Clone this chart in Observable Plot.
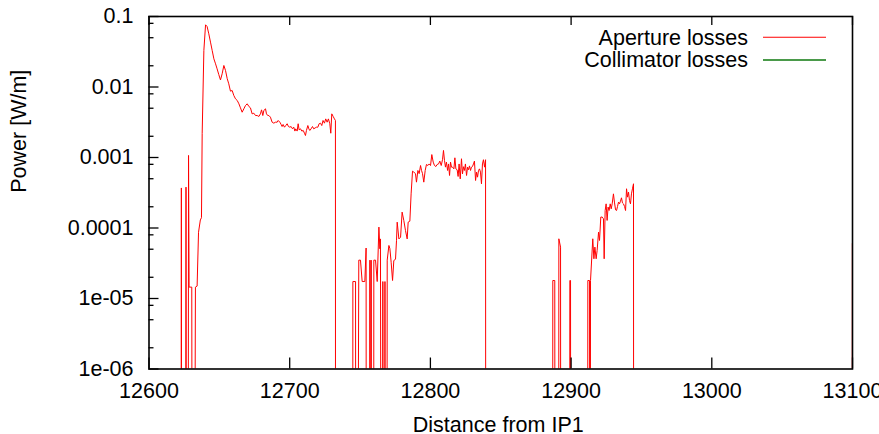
<!DOCTYPE html>
<html><head><meta charset="utf-8">
<script src="https://cdn.jsdelivr.net/npm/d3@7"></script>
<script src="https://cdn.jsdelivr.net/npm/@observablehq/plot@0.6"></script>
<style>
html,body{margin:0;padding:0;background:#fff;overflow:hidden;}
</style></head><body><div id="chart"></div>
<script>
// Aperture losses: distance from IP1 [m] and power [W/m] (0 = no loss, below axis)
const distance = [
12622.6,12623.0,12623.4,12625.9,12626.3,12626.7,12627.7,12628.1,12628.5,12630.4,12630.9,12631.9,12633.0,12634.2,12635.2,12636.5,12637.3,12637.8,12639.0,
12640.2,12641.3,12642.5,12643.7,12644.9,12646.1,12647.3,12648.4,12649.6,12650.8,12652.0,12653.2,12654.4,12655.6,12656.7,12657.9,12659.1,12660.3,12661.5,12662.7,
12663.9,12665.0,12666.2,12667.4,12668.6,12669.8,12671.0,12672.1,12673.3,12674.5,12675.7,12676.9,12678.1,12679.2,12680.0,12680.9,12681.6,12682.8,12683.5,12684.4,
12685.2,12686.3,12687.5,12688.7,12689.9,12691.1,12691.8,12693.0,12693.9,12694.6,12695.3,12696.3,12697.2,12698.2,12699.1,12700.1,12701.0,12702.0,12702.9,12703.7,
12704.3,12705.3,12706.0,12706.7,12707.7,12708.6,12709.6,12710.5,12711.2,12711.9,12712.9,12713.6,12714.3,12715.2,12716.2,12717.1,12718.1,12719.0,12720.0,12720.9,
12721.9,12722.8,12723.7,12724.7,12725.6,12726.6,12727.5,12728.5,12729.2,12729.9,12730.9,12731.8,12732.5,12732.6,
12744.7,12744.9,12746.8,12747.0,12747.9,12749.1,12750.3,12751.5,12753.4,12754.3,12754.5,12756.8,12757.0,12757.3,12757.7,12757.9,12758.1,
12759.6,12759.8,12761.0,12762.2,12763.4,12764.1,12764.5,12765.2,12766.0,12766.2,12766.4,12767.5,12767.7,12768.0,12769.0,12769.3,12770.5,12771.2,
12772.1,12773.1,12774.0,12775.2,12775.9,12776.4,12777.6,12778.8,12779.9,12781.1,12782.3,12783.5,12784.2,12785.4,12786.3,12787.3,12788.2,12789.4,
12790.1,12791.1,12792.0,12793.0,12793.7,12794.4,12795.3,12796.3,12797.2,12798.2,12799.1,12800.1,12801.0,12802.0,12802.9,12803.9,12804.8,12805.8,
12806.7,12807.7,12808.6,12809.3,12810.0,12810.7,12811.4,12812.2,12812.9,12813.6,12814.3,12815.0,12815.7,12816.7,12817.4,12818.1,12819.0,12819.7,
12820.4,12821.2,12822.1,12822.8,12823.5,12824.2,12824.9,12825.7,12826.4,12827.1,12827.8,12828.5,12829.2,12829.9,12830.6,12831.3,12832.1,12832.8,
12833.5,12834.2,12834.9,12835.6,12836.3,12837.0,12837.7,12838.5,12839.2,12839.4,
12886.8,12887.0,12888.4,12888.6,12891.1,12891.3,12892.5,12892.7,12898.9,12899.1,12899.6,12899.8,12911.6,12911.9,12913.1,12913.3,12913.5,12913.8,
12915.4,12916.2,12916.9,12917.8,12918.5,12919.5,12920.2,12921.1,12922.1,12923.0,12923.5,12924.2,12924.9,12925.6,12926.3,12927.0,12927.8,12928.5,
12929.2,12930.1,12930.8,12931.6,12932.3,12933.0,12933.7,12934.4,12935.1,12935.8,12936.5,12937.2,12938.0,12938.7,12939.4,12940.1,12940.8,12941.5,
12942.2,12942.9,12943.6,12944.35,12944.5,
13099.6,13099.9
];
const aperturePower = [
0,3.7e-4,0,0,3.8e-4,0,0,1.07e-3,1.45e-5,1.45e-5,0,0,1.45e-5,1.5e-5,8.7e-5,1.3e-4,1.4e-4,2.2e-3,0.033,
0.0762,0.0721,0.0568,0.0433,0.0330,0.0251,0.0213,0.0181,0.0150,0.0126,0.0154,0.0202,0.0171,0.0131,0.0111,0.00873,0.00892,0.00757,0.00679,0.00644,
0.00577,0.00506,0.00439,0.00490,0.00547,0.00577,0.00529,0.00506,0.00416,0.00425,0.00394,0.00394,0.00382,0.00416,0.00474,0.00394,0.00464,0.00490,0.00416,0.00394,
0.00394,0.00373,0.00317,0.00307,0.00317,0.00317,0.00335,0.00317,0.00294,0.00275,0.00294,0.00269,0.00284,0.00301,0.00275,0.00269,0.00275,0.00255,0.00269,0.00237,
0.00255,0.00237,0.00301,0.00247,0.00255,0.00237,0.00242,0.00221,0.00205,0.00242,0.00284,0.00255,0.00242,0.00255,0.00275,0.00255,0.00263,0.00269,0.00269,0.00301,
0.00307,0.00284,0.00335,0.00307,0.00353,0.00317,0.00353,0.00301,0.00221,0.00416,0.00382,0.00353,0.00335,0,
0,1.74e-5,1.74e-5,0,0,3.5e-5,3.5e-5,1.74e-5,1.74e-5,5.2e-5,0,0,3.5e-5,0,0,3.5e-5,0,
0,3.5e-5,3.5e-5,1.74e-5,1.03e-4,5.07e-5,7.0e-5,0,0,1.74e-5,0,0,1.74e-5,0,0,3.5e-5,5.65e-5,5.1e-5,
3.27e-5,1.8e-5,3.46e-5,3.6e-5,6.6e-5,1.21e-4,7.0e-5,7.4e-5,1.68e-4,1.28e-4,9.2e-5,7.0e-5,1.21e-4,1.25e-4,3.05e-4,6.4e-4,6.2e-4,5.9e-4,
4.47e-4,6.55e-4,5.9e-4,7.7e-4,6.55e-4,5.9e-4,4.47e-4,6.55e-4,7.96e-4,7.7e-4,8.1e-4,7.7e-4,1.10e-3,8.6e-4,7.7e-4,7.45e-4,7.96e-4,8.1e-4,
8.9e-4,7.7e-4,9.3e-4,1.26e-3,9.1e-4,7.3e-4,8.6e-4,6.55e-4,8.1e-4,5.56e-4,8.6e-4,7.3e-4,7.3e-4,6.9e-4,9.9e-4,6.9e-4,6.7e-4,5.38e-4,
8.1e-4,4.98e-4,9.6e-4,5.86e-4,7.4e-4,6.55e-4,8.1e-4,5.56e-4,7.3e-4,6.7e-4,7.6e-4,6.55e-4,7.3e-4,7.45e-4,8.1e-4,8.9e-4,4.72e-4,6.2e-4,
5.26e-4,6.55e-4,6.9e-4,6.2e-4,4.23e-4,8.1e-4,9.3e-4,7.3e-4,9.3e-4,0,
0,1.8e-5,1.8e-5,0,0,7.03e-5,5.36e-5,0,0,1.8e-5,1.8e-5,0,0,1.8e-5,1.8e-5,0,0,1.8e-5,
7.03e-5,3.66e-5,5.36e-5,3.66e-5,4.8e-5,8.73e-5,6.65e-5,1.43e-4,1.43e-4,1.35e-4,3.66e-5,1.77e-4,2.2e-4,1.28e-4,1.98e-4,1.77e-4,2.2e-4,1.87e-4,
2.2e-4,3.05e-4,2.33e-4,1.81e-4,1.77e-4,2.02e-4,2.33e-4,2.2e-4,2.4e-4,2.68e-4,2.27e-4,2.2e-4,2.02e-4,1.77e-4,3.6e-4,2.74e-4,3.23e-4,2.46e-4,
2.2e-4,3.05e-4,3.6e-4,4.24e-4,0,
0,6e-5
];
// Collimator losses: nothing visible in this range
const collimatorDistance = [];
const collimatorPower = [];

const seriesNames = ["Aperture losses", "Collimator losses"];
const seriesColors = ["#ff0000", "#4a9a4a"];
const xTicks = [12600, 12700, 12800, 12900, 13000, 13100];
const yTicks = [0.1, 0.01, 0.001, 0.0001, 1e-5, 1e-6];
const yTickLabels = ["0.1", "0.01", "0.001", "0.0001", "1e-05", "1e-06"];
const yMinorTicks = [0.08,0.05,0.02,0.008,0.005,0.002,8e-4,5e-4,2e-4,8e-5,5e-5,2e-5,8e-6,5e-6,2e-6];
const xLabel = "Distance from IP1";
const yLabel = "Power [W/m]";

const W = 879, H = 434, mL = 148.5, mR = 27, mT = 16, mB = 65.5;
const pw = W - mL - mR, ph = H - mT - mB;
const FS = 21.5;
const FLOOR = 1e-12; // zero losses fall below the log axis
const aperture = distance.map((d, i) => ({d, p: aperturePower[i] > 0 ? aperturePower[i] : FLOOR}));
const collimator = collimatorDistance.map((d, i) => ({d, p: collimatorPower[i] > 0 ? collimatorPower[i] : FLOOR}));

const chart = Plot.plot({
  width: W, height: H,
  marginLeft: mL, marginRight: mR, marginTop: mT, marginBottom: mB,
  style: {fontFamily: "'Liberation Sans', Arial, Helvetica, sans-serif", fontSize: FS + "px", background: "#fff", color: "#000", overflow: "visible"},
  x: {domain: [12600, 13100]},
  y: {type: "log", domain: [1e-6, 0.1]},
  marks: [
    Plot.line(collimator, {x: "d", y: "p", stroke: seriesColors[1], strokeWidth: 1, clip: true}),
    Plot.line(aperture, {x: "d", y: "p", stroke: seriesColors[0], strokeWidth: 1, clip: true}),
    Plot.ruleY(yTicks, {stroke: "#000", strokeWidth: 1.3, insetRight: pw - 10}),
    Plot.ruleY(yMinorTicks, {stroke: "#000", strokeWidth: 1.3, insetRight: pw - 5}),
    Plot.ruleX(xTicks, {stroke: "#000", strokeWidth: 1.3, insetTop: ph - 11}),
    Plot.ruleX(xTicks, {stroke: "#000", strokeWidth: 1.3, insetBottom: ph - 9}),
    Plot.frame({stroke: "#000", strokeWidth: 1.6}),
    Plot.axisY({ticks: yTicks, tickSize: 0, tickPadding: 15.5, label: null, fill: "#000", fontSize: FS,
      tickFormat: d => yTickLabels[yTicks.indexOf(d)]}),
    Plot.axisX({ticks: xTicks, tickSize: 0, tickPadding: 13.5, label: null, fill: "#000", fontSize: FS,
      tickFormat: d => String(d)}),
    Plot.text([xLabel], {frameAnchor: "bottom", dx: -2.5, dy: 55.8, lineAnchor: "middle", fill: "#000", fontSize: FS}),
    Plot.text([yLabel], {frameAnchor: "left", dx: -130.2, rotate: -90, lineAnchor: "middle", fill: "#000", fontSize: FS})
  ]
});
document.getElementById("chart").appendChild(chart);

// legend (top-right, gnuplot style)
const svg = d3.select(chart);
const lg = svg.append("g").attr("font-size", FS).attr("fill", "#000");
const rows = [{y: 45, ly: 37.3, w: 1.1}, {y: 66.7, ly: 60, w: 2}];
seriesNames.forEach((name, i) => {
  lg.append("text").attr("x", 748).attr("y", rows[i].y).attr("text-anchor", "end").text(name);
  lg.append("line").attr("x1", 763).attr("x2", 826).attr("y1", rows[i].ly).attr("y2", rows[i].ly)
    .attr("stroke", seriesColors[i]).attr("stroke-width", rows[i].w);
});
</script></body></html>
